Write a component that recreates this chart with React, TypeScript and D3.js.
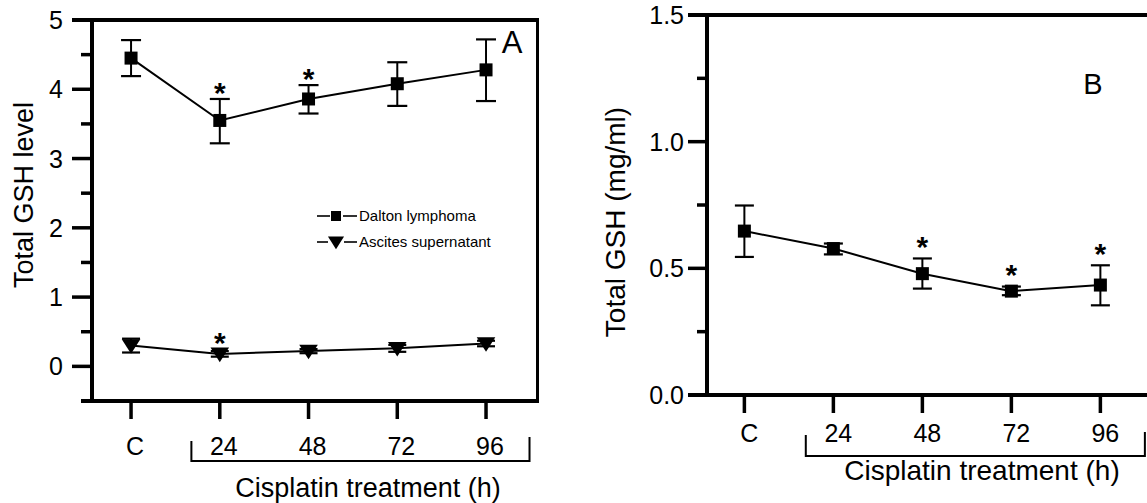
import React from 'react';
import * as d3 from 'd3';

// ---------- data ----------
const categories = ['C', '24', '48', '72', '96'];

const daltonMean = [4.45, 3.55, 3.86, 4.08, 4.28];
const daltonLow = [4.19, 3.22, 3.65, 3.76, 3.83];
const daltonHigh = [4.71, 3.86, 4.06, 4.39, 4.72];
const daltonStar = [false, true, true, false, false];

const ascitesMean = [0.3, 0.18, 0.22, 0.26, 0.33];
const ascitesLow = [0.2, 0.14, 0.19, 0.21, 0.29];
const ascitesHigh = [0.4, 0.22, 0.25, 0.31, 0.37];
const ascitesStar = [false, true, false, false, false];

const bMean = [0.647, 0.578, 0.479, 0.41, 0.434];
const bLow = [0.545, 0.555, 0.42, 0.394, 0.354];
const bHigh = [0.748, 0.598, 0.539, 0.428, 0.512];
const bStar = [false, false, true, true, true];

const leftYTicks = [0, 1, 2, 3, 4, 5];
const leftYMinor = [0.5, 1.5, 2.5, 3.5, 4.5];
const rightYTicks = [0, 0.5, 1.0, 1.5];
const rightYMinor = [0.25, 0.75, 1.25];

const legendLabels = ['Dalton lymphoma', 'Ascites supernatant'];

const FONT = "'Liberation Sans', Arial, Helvetica, sans-serif";
const STAR_FS = 30;

// ---------- scales ----------
const xL = d3.scaleLinear().domain([-0.44, 4.58]).range([92, 537.5]);
const yL = d3.scaleLinear().domain([-0.5, 5]).range([401, 20]);
const xR = d3.scaleLinear().domain([-0.42, 4.58]).range([707, 1152]);
const yR = d3.scaleLinear().domain([0, 1.5]).range([395, 15]);

type Series = { mean: number[]; low: number[]; high: number[]; star: boolean[]; marker: 'square' | 'tri' };

function Marker({ kind, x, y, s }: { kind: 'square' | 'tri'; x: number; y: number; s: number }) {
  if (kind === 'square') return <rect x={x - s / 2} y={y - s / 2} width={s} height={s} fill="#000" />;
  const w = s * 0.62;
  return <path d={`M${x - w},${y - s * 0.42} L${x + w},${y - s * 0.42} L${x},${y + s * 0.55} Z`} fill="#000" />;
}

function SeriesMarks({ xs, ys, ser, msize, cap, starGap }: { xs: any; ys: any; ser: Series; msize: number; cap: number; starGap: number }) {
  const line = d3.line<number>().x((_, i) => xs(i)).y((d) => ys(d));
  return (
    <g>
      <path d={line(ser.mean) || ''} fill="none" stroke="#000" strokeWidth={2} />
      {ser.mean.map((m, i) => {
        const x = xs(i);
        const yh = ys(ser.high[i]);
        const yl = ys(ser.low[i]);
        return (
          <g key={i}>
            <line x1={x} x2={x} y1={yh} y2={yl} stroke="#000" strokeWidth={2} />
            <line x1={x - cap / 2} x2={x + cap / 2} y1={yh} y2={yh} stroke="#000" strokeWidth={2.2} />
            <line x1={x - cap / 2} x2={x + cap / 2} y1={yl} y2={yl} stroke="#000" strokeWidth={2.2} />
            <Marker kind={ser.marker} x={x} y={ys(m)} s={msize} />
            {ser.star[i] && (
              <text x={x} y={yh - starGap + 0.42 * STAR_FS} textAnchor="middle" fontFamily={FONT} fontSize={STAR_FS} fontWeight="bold">
                *
              </text>
            )}
          </g>
        );
      })}
    </g>
  );
}

export default function App() {
  const dalton: Series = { mean: daltonMean, low: daltonLow, high: daltonHigh, star: daltonStar, marker: 'square' };
  const ascites: Series = { mean: ascitesMean, low: ascitesLow, high: ascitesHigh, star: ascitesStar, marker: 'tri' };
  const panelB: Series = { mean: bMean, low: bLow, high: bHigh, star: bStar, marker: 'square' };

  const lx0 = xL.range()[0], lx1 = xL.range()[1];
  const ly0 = yL.range()[0], ly1 = yL.range()[1];
  const rx0 = xR.range()[0], rx1 = xR.range()[1];
  const ry0 = yR.range()[0], ry1 = yR.range()[1];

  return (
    <svg width={1147} height={503} style={{ position: 'absolute', left: 0, top: 0, background: '#fff' }}>
      <rect x={0} y={0} width={1147} height={503} fill="#fff" />

      {/* ================= Panel A ================= */}
      <g>
        <line x1={lx0} x2={lx0} y1={ly1 - 2} y2={ly0 + 2} stroke="#000" strokeWidth={4} />
        <line x1={lx0 - 11} x2={lx1 + 1.5} y1={ly0} y2={ly0} stroke="#000" strokeWidth={4} />
        <line x1={lx0 - 20} x2={lx1 + 1.5} y1={ly1} y2={ly1} stroke="#000" strokeWidth={4} />
        <line x1={lx1} x2={lx1} y1={ly1 - 2} y2={ly0 + 2} stroke="#000" strokeWidth={3} />
        {leftYTicks.map((t) => (
          <g key={t}>
            <line x1={lx0 - 20} x2={lx0} y1={yL(t)} y2={yL(t)} stroke="#000" strokeWidth={3.5} />
            <text x={63} y={yL(t) + 9} textAnchor="end" fontFamily={FONT} fontSize={25}>
              {d3.format('d')(t)}
            </text>
          </g>
        ))}
        {leftYMinor.map((t) => (
          <line key={t} x1={lx0 - 11} x2={lx0} y1={yL(t)} y2={yL(t)} stroke="#000" strokeWidth={3.5} />
        ))}
        {categories.map((c, i) => (
          <g key={c}>
            <line x1={xL(i)} x2={xL(i)} y1={ly0} y2={ly0 + 18} stroke="#000" strokeWidth={3.5} />
            <text x={xL(i) + 4} y={ly0 + 54} textAnchor="middle" fontFamily={FONT} fontSize={25}>
              {c}
            </text>
          </g>
        ))}
        <path d={`M${xL(0.68)},441 V461 H${xL(4.49)} V437`} fill="none" stroke="#000" strokeWidth={2} />
        <text x={368} y={497} textAnchor="middle" fontFamily={FONT} fontSize={27}>
          Cisplatin treatment (h)
        </text>
        <text transform="translate(33,195) rotate(-90)" textAnchor="middle" fontFamily={FONT} fontSize={27}>
          Total GSH level
        </text>
        <text x={512} y={53} textAnchor="middle" fontFamily={FONT} fontSize={31}>
          A
        </text>

        <SeriesMarks xs={xL} ys={yL} ser={dalton} msize={13} cap={20} starGap={9} />
        <SeriesMarks xs={xL} ys={yL} ser={ascites} msize={15} cap={18} starGap={11} />

        <g fontFamily={FONT} fontSize={15}>
          <line x1={317} x2={330} y1={216} y2={216} stroke="#000" strokeWidth={1.6} />
          <rect x={331} y={211} width={10} height={10} fill="#000" />
          <line x1={343} x2={357} y1={216} y2={216} stroke="#000" strokeWidth={1.6} />
          <text x={359} y={221}>{legendLabels[0]}</text>
          <line x1={317} x2={328} y1={242} y2={242} stroke="#000" strokeWidth={1.6} />
          <Marker kind="tri" x={336} y={242} s={13} />
          <line x1={344} x2={357} y1={242} y2={242} stroke="#000" strokeWidth={1.6} />
          <text x={359} y={247}>{legendLabels[1]}</text>
        </g>
      </g>

      {/* ================= Panel B ================= */}
      <g>
        <line x1={rx0} x2={rx0} y1={ry1 - 2} y2={ry0 + 2} stroke="#000" strokeWidth={4} />
        <line x1={rx0 - 19} x2={rx1} y1={ry0} y2={ry0} stroke="#000" strokeWidth={4} />
        <line x1={rx0 - 19} x2={rx1} y1={ry1} y2={ry1} stroke="#000" strokeWidth={4} />
        <line x1={rx1} x2={rx1} y1={ry1} y2={ry0} stroke="#000" strokeWidth={3} />
        {rightYTicks.map((t) => (
          <g key={t}>
            <line x1={rx0 - 19} x2={rx0} y1={yR(t)} y2={yR(t)} stroke="#000" strokeWidth={3.5} />
            <text x={684} y={yR(t) + 9} textAnchor="end" fontFamily={FONT} fontSize={25}>
              {d3.format('.1f')(t)}
            </text>
          </g>
        ))}
        {rightYMinor.map((t) => (
          <line key={t} x1={rx0 - 10} x2={rx0} y1={yR(t)} y2={yR(t)} stroke="#000" strokeWidth={3.5} />
        ))}
        {categories.map((c, i) => (
          <g key={c}>
            <line x1={xR(i)} x2={xR(i)} y1={ry0} y2={ry0 + 18} stroke="#000" strokeWidth={3.5} />
            <text x={xR(i) + 5} y={ry0 + 47} textAnchor="middle" fontFamily={FONT} fontSize={25}>
              {c}
            </text>
          </g>
        ))}
        <path d={`M${xR(0.69)},435 V456 H${xR(4.5)} V432`} fill="none" stroke="#000" strokeWidth={2} />
        <text x={982} y={480} textAnchor="middle" fontFamily={FONT} fontSize={28}>
          Cisplatin treatment (h)
        </text>
        <text transform="translate(625,222) rotate(-90)" textAnchor="middle" fontFamily={FONT} fontSize={28}>
          Total GSH (mg/ml)
        </text>
        <text x={1093} y={94} textAnchor="middle" fontFamily={FONT} fontSize={29}>
          B
        </text>

        <SeriesMarks xs={xR} ys={yR} ser={panelB} msize={13} cap={19} starGap={14} />
      </g>
    </svg>
  );
}
